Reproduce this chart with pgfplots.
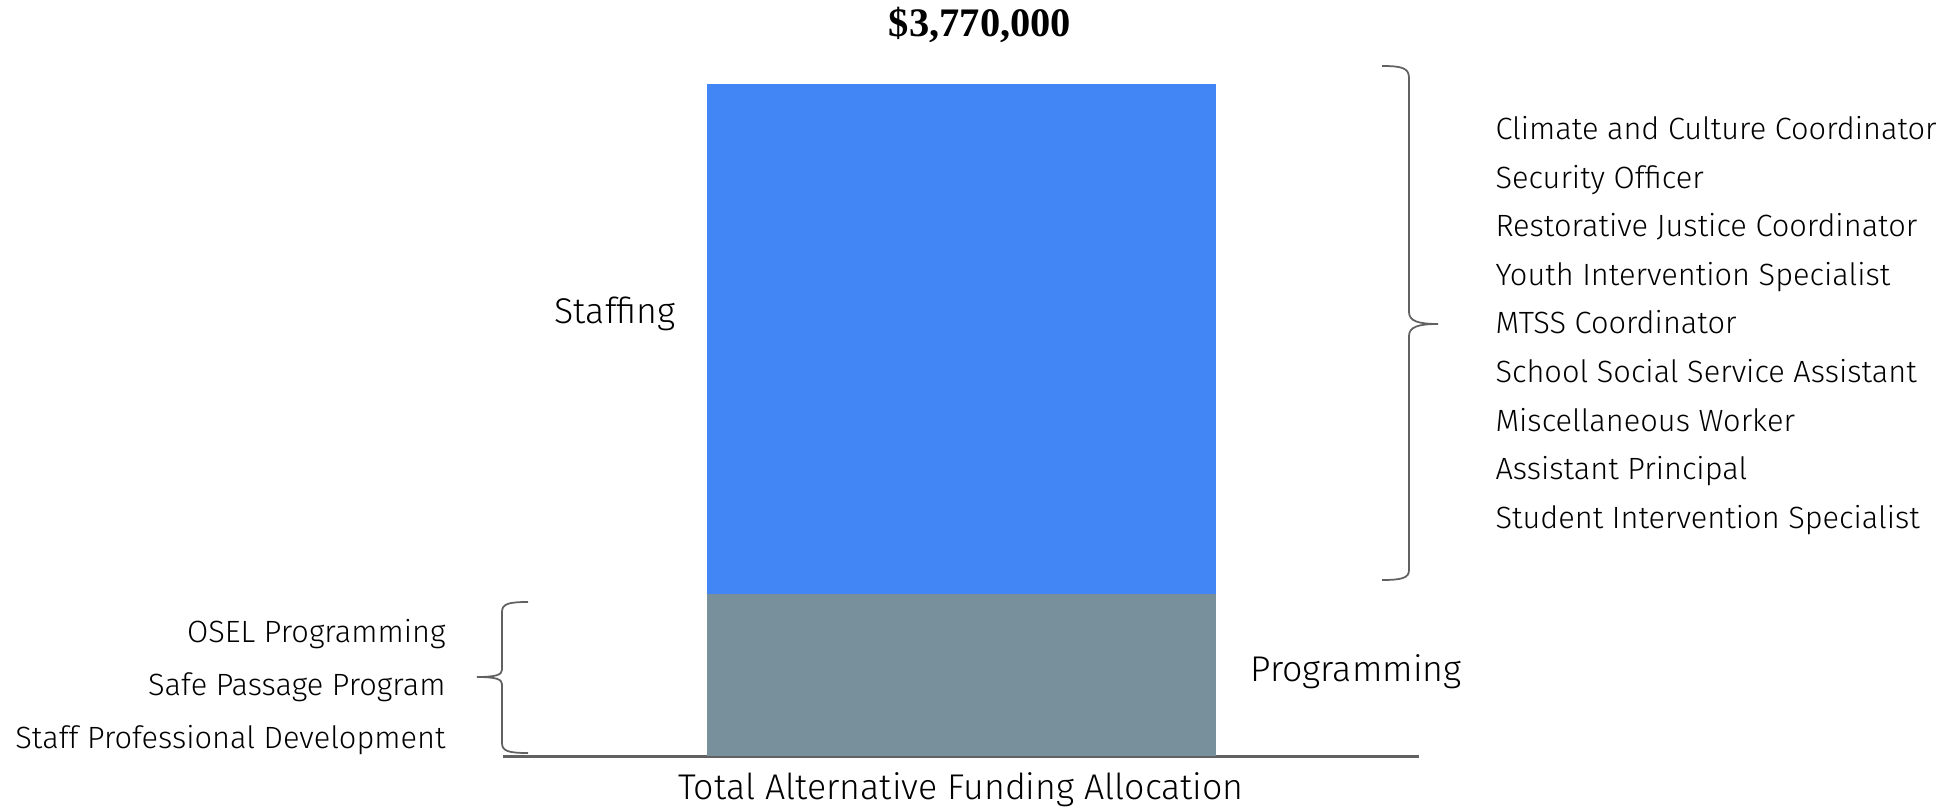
\documentclass[border=0pt]{standalone}
\usepackage{pgfplots}
\pgfplotsset{compat=1.18}
\usepackage{fontspec}
\setmainfont{Fira Sans}[UprightFont=* Light]
\newfontfamily\titlefont{Liberation Serif}
\definecolor{staffblue}{HTML}{4285F4}
\definecolor{proggray}{HTML}{78909C}
\definecolor{linegray}{HTML}{616161}
\newcommand\listfont{\fontsize{12.3}{14}\selectfont}
\newcommand\bigfont{\fontsize{14.3}{16}\selectfont}

\begin{document}
\begin{tikzpicture}
% axis placed in pt: 1 px of the reference = 0.4pt, origin at top left
\begin{axis}[
    at={(201.2pt,-302.4pt)}, anchor=south west,
    scale only axis,
    width=366.4pt, height=268.8pt,
    xmin=503, xmax=1419,
    ymin=0, ymax=3770000,
    axis x line=bottom,
    axis y line=none,
    x axis line style={-, linegray, line width=1.2pt},
    xtick=\empty, ytick=\empty,
    ybar stacked,
    bar width=203.6pt,
    bar shift=0pt,
    clip=false,
]
% programming at the bottom, staffing on top
\addplot[fill=proggray, draw=none] coordinates {(961.5,910000)};
\addplot[fill=staffblue, draw=none] coordinates {(961.5,2860000)};
\end{axis}

\begin{scope}[x=0.4pt,y=-0.4pt]
\path[use as bounding box] (0,0) rectangle (1955,811);
\node[font=\titlefont\bfseries\fontsize{16.2}{18}\selectfont] at (980,25) {\$3,770,000};
\node[anchor=mid east, font=\bigfont, inner xsep=0pt] at (676,317) {Staffing};
\node[anchor=mid west, font=\bigfont, inner xsep=0pt] at (1250,675) {Programming};
\node[anchor=mid, font=\bigfont] at (961,793) {Total Alternative Funding Allocation};

\foreach \t [count=\i from 0] in {Climate and Culture Coordinator, Security Officer,
    Restorative Justice Coordinator, Youth Intervention Specialist, MTSS Coordinator,
    School Social Service Assistant, Miscellaneous Worker, Assistant Principal,
    Student Intervention Specialist}
  \node[anchor=mid west, font=\listfont, inner xsep=0pt] at (1495,133+48.6*\i) {\t};

\foreach \t [count=\i from 0] in {OSEL Programming, Safe Passage Program,
    Staff Professional Development}
  \node[anchor=mid east, font=\listfont, inner xsep=0pt] at (446,636+53*\i) {\t};

% braces
\draw[linegray, line width=0.7pt]
  (1382,66) .. controls (1402,66) and (1409,68) .. (1409,78)
  -- (1409,312) .. controls (1409,321) and (1418,324) .. (1438,324)
  .. controls (1418,324) and (1409,327) .. (1409,336)
  -- (1409,570) .. controls (1409,578) and (1402,580) .. (1382,580);
\draw[linegray, line width=0.7pt]
  (528,602) .. controls (508,602) and (502,604) .. (502,612)
  -- (502,670) .. controls (502,675) and (495,677) .. (477,677)
  .. controls (495,677) and (502,679) .. (502,684)
  -- (502,743) .. controls (502,751) and (508,753) .. (528,753);
\end{scope}
\end{tikzpicture}
\end{document}
